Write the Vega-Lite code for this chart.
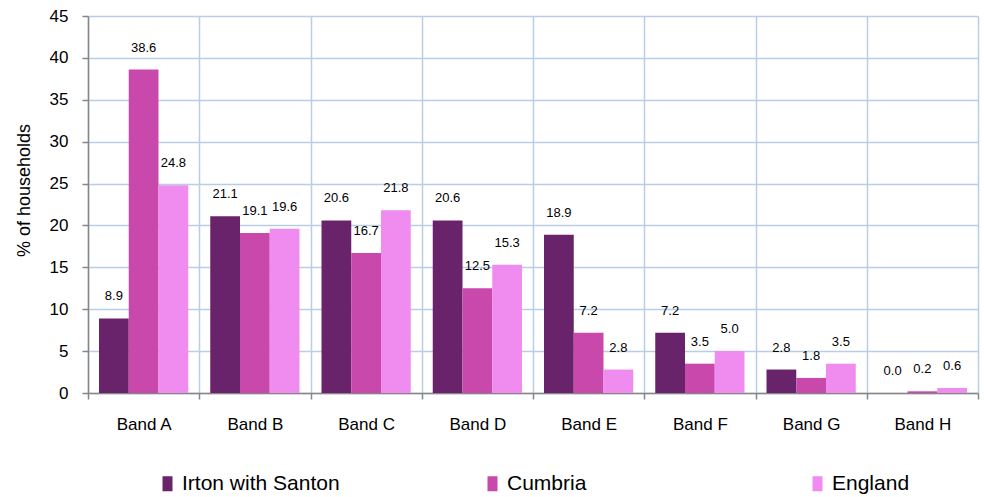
{
  "$schema": "https://vega.github.io/schema/vega-lite/v6.json",
  "width": 890,
  "height": 377,
  "autosize": {"type": "none"},
  "padding": {"left": 88, "top": 16, "right": 6, "bottom": 104},
  "background": "white",
  "config": {
    "view": {"stroke": null},
    "font": "Liberation Sans",
    "axis": {"labelFont": "Liberation Sans", "titleFont": "Liberation Sans"}
  },
  "data": {
    "values": [
      {"band": "Band A", "area": "Irton with Santon", "pct": 8.9},
      {"band": "Band B", "area": "Irton with Santon", "pct": 21.1},
      {"band": "Band C", "area": "Irton with Santon", "pct": 20.6},
      {"band": "Band D", "area": "Irton with Santon", "pct": 20.6},
      {"band": "Band E", "area": "Irton with Santon", "pct": 18.9},
      {"band": "Band F", "area": "Irton with Santon", "pct": 7.2},
      {"band": "Band G", "area": "Irton with Santon", "pct": 2.8},
      {"band": "Band H", "area": "Irton with Santon", "pct": 0.0},
      {"band": "Band A", "area": "Cumbria", "pct": 38.6},
      {"band": "Band B", "area": "Cumbria", "pct": 19.1},
      {"band": "Band C", "area": "Cumbria", "pct": 16.7},
      {"band": "Band D", "area": "Cumbria", "pct": 12.5},
      {"band": "Band E", "area": "Cumbria", "pct": 7.2},
      {"band": "Band F", "area": "Cumbria", "pct": 3.5},
      {"band": "Band G", "area": "Cumbria", "pct": 1.8},
      {"band": "Band H", "area": "Cumbria", "pct": 0.2},
      {"band": "Band A", "area": "England", "pct": 24.8},
      {"band": "Band B", "area": "England", "pct": 19.6},
      {"band": "Band C", "area": "England", "pct": 21.8},
      {"band": "Band D", "area": "England", "pct": 15.3},
      {"band": "Band E", "area": "England", "pct": 2.8},
      {"band": "Band F", "area": "England", "pct": 5.0},
      {"band": "Band G", "area": "England", "pct": 3.5},
      {"band": "Band H", "area": "England", "pct": 0.6}
    ]
  },
  "encoding": {
    "x": {
      "field": "band", "type": "nominal",
      "scale": {"paddingInner": 0, "paddingOuter": 0},
      "axis": {
        "title": null, "labelAngle": 0, "tickBand": "extent",
        "labelFontSize": 17, "labelColor": "#000000", "labelPadding": 17,
        "tickSize": 6, "tickColor": "#868686", "tickWidth": 1.5,
        "domainColor": "#868686", "domainWidth": 1.5,
        "grid": true, "gridColor": "#b9cde5", "gridWidth": 1.5
      }
    },
    "xOffset": {
      "field": "area", "type": "nominal",
      "sort": ["Irton with Santon", "Cumbria", "England"],
      "scale": {"paddingInner": 0, "paddingOuter": 0.37}
    },
    "y": {
      "field": "pct", "type": "quantitative",
      "scale": {"domain": [0, 45], "nice": false},
      "axis": {
        "title": "% of households", "titleFontSize": 18, "titleFontWeight": "normal",
        "titleColor": "#000000", "titlePadding": 16, "titleY": 174,
        "values": [0, 5, 10, 15, 20, 25, 30, 35, 40, 45],
        "labelFontSize": 17, "labelColor": "#000000", "labelPadding": 14,
        "tickSize": 6, "tickColor": "#868686", "tickWidth": 1.5,
        "domainColor": "#868686", "domainWidth": 1.5,
        "grid": true, "gridColor": "#b9cde5", "gridWidth": 1.5
      }
    }
  },
  "layer": [
    {
      "mark": {"type": "bar"},
      "encoding": {
        "color": {
          "field": "area", "type": "nominal",
          "sort": ["Irton with Santon", "Cumbria", "England"],
          "scale": {
            "domain": ["Irton with Santon", "Cumbria", "England"],
            "range": ["#68236b", "#c849ab", "#f08cf0"]
          },
          "legend": {
            "title": null, "orient": "none", "direction": "horizontal",
            "columns": 3, "gridAlign": "all", "columnPadding": 142,
            "legendX": 69, "legendY": 457, "padding": 0,
            "labelFontSize": 21, "labelColor": "#000000", "labelOffset": 4,
            "labelLimit": 400,
            "symbolType": "M-0.667,-1H0.667V1H-0.667Z", "symbolSize": 225,
            "symbolStrokeWidth": 0, "symbolOpacity": 1
          }
        }
      }
    },
    {
      "mark": {"type": "text", "dy": -22, "baseline": "middle", "fontSize": 13, "color": "#000000"},
      "encoding": {
        "text": {"field": "pct", "type": "quantitative", "format": ".1f"}
      }
    }
  ]
}
